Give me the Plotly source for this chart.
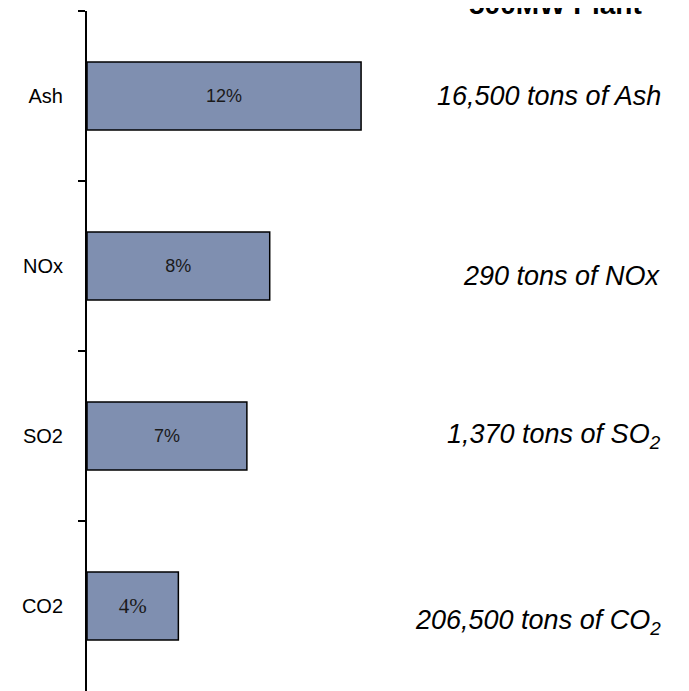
import plotly.graph_objects as go

categories = ["Ash", "NOx", "SO2", "CO2"]
percent_values = [12, 8, 7, 4]
bar_labels = ["12%", "8%", "7%", "4%"]
tonnage_labels = [
    "16,500 tons of Ash",
    "290 tons of NOx",
    "1,370 tons of SO<sub>2</sub>",
    "206,500 tons of CO<sub>2</sub>",
]
title_text = "500MW Plant"

fig = go.Figure()
fig.add_trace(go.Bar(
    y=categories,
    x=percent_values,
    orientation="h",
    text=bar_labels,
    textposition="inside",
    insidetextanchor="middle",
    textangle=0,
    textfont=dict(
        family=["Liberation Sans", "Liberation Sans", "Liberation Sans", "Liberation Serif"],
        size=[18, 18, 18, 21],
        color="#1a1a1a",
    ),
    marker=dict(color="#7F8FB0", line=dict(color="black", width=1.5)),
    width=0.4,
    hoverinfo="skip",
))

# right-side tonnage annotations (y offsets in pixels to mimic the original layout)
yshifts = [0, -10, 0, -16]
for cat, lab, ys in zip(categories, tonnage_labels, yshifts):
    fig.add_annotation(
        x=1.009, xref="paper", xanchor="right",
        y=cat, yref="y", yanchor="middle",
        text="<i>" + lab + "</i>",
        showarrow=False, yshift=ys,
        font=dict(family="Liberation Sans", size=27, color="black"),
    )

fig.add_annotation(
    x=0.82, xref="paper", xanchor="center",
    y=1.0, yref="paper", yanchor="bottom", yshift=-11,
    text="<b>" + title_text + "</b>",
    showarrow=False,
    font=dict(family="Liberation Sans", size=28, color="black"),
)

fig.update_layout(
    width=689, height=691,
    margin=dict(l=79, r=39, t=3, b=8),
    paper_bgcolor="white", plot_bgcolor="white",
    showlegend=False,
    bargap=0.6,
    uniformtext=dict(mode=False),
)
fig.update_xaxes(visible=False, range=[0, 25], showgrid=False, zeroline=False)
fig.update_yaxes(
    type="category", autorange="reversed",
    showline=True, linecolor="black", linewidth=2,
    ticks="outside", ticklen=7, tickwidth=2, tickcolor="black",
    tickson="boundaries", showgrid=False, zeroline=False,
    ticklabelstandoff=18,
    tickfont=dict(family="Liberation Sans", size=20, color="black"),
)

fig.write_html("out.html")
